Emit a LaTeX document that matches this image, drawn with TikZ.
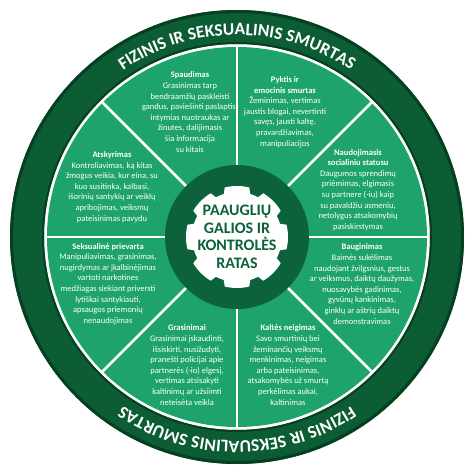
\documentclass[tikz,border=0pt]{standalone}
\usepackage{fontspec}
\setmainfont{Carlito}
\usetikzlibrary{decorations.text}
\definecolor{ringgreen}{RGB}{12,92,52}
\definecolor{ringdark}{RGB}{6,64,35}
\definecolor{seggreen}{RGB}{30,163,108}
\definecolor{hubgreen}{RGB}{12,98,58}
\begin{document}
\begin{tikzpicture}[x=1pt, y=1pt,
        segtext/.style = {align=center, text=white, inner sep=0pt, font=\fontsize{8.5}{10.6}\selectfont},
        hubtext/.style = {align=center, text=hubgreen, inner sep=0pt, font=\fontsize{16}{17.5}\selectfont\bfseries},
        spoke/.style = {white, line width=2.6pt},
        ringtext/.style = {decorate, decoration={text along path, text align=center,
            text={|\color{white}\fontsize{17.5}{18}\selectfont\bfseries|#1}}}
    ]
        \useasboundingbox (-237,-237) rectangle (237,237);
        \fill[ringgreen, even odd rule] (0,0) circle (227) (0,0) circle (193);
        \draw[ringdark, line width=3pt] (0,0) circle (225.5);
        \draw[ringdark, line width=2pt] (0,0) circle (194);
        \fill[seggreen] (0,0) circle (190);
        \foreach \a in {0,45,...,315}
            \draw[spoke] (\a:70) -- (\a:191);
        \fill[hubgreen] (0,0) circle (72);
        \fill[white] (-17:45) \foreach \a in {0,45,...,315} {
            -- (\a-14:51) arc[start angle=\a-14, end angle=\a+14, radius=51]
            -- (\a+17:45) arc[start angle=\a+17, end angle=\a+28, radius=45] } -- cycle;
        \path[ringtext=FIZINIS IR SEKSUALINIS SMURTAS] (140:202) arc[start angle=140, end angle=40, radius=202];
        \path[ringtext=FIZINIS IR SEKSUALINIS SMURTAS] (-40:204) arc[start angle=-40, end angle=-140, radius=204];
        \node[hubtext] (ratas) at (0,0) {PAAUGLIŲ\\GALIOS IR\\KONTROLĖS\\RATAS};
        \node[segtext] (spaudimas) at (-47,125) {\textbf{Spaudimas}\\Grasinimas tarp\\bendraamžių paskleisti\\gandus, paviešinti paslaptis,\\intymias nuotraukas ar\\žinutes, dalijimasis\\šia informacija\\su kitais};
        \node[segtext] (pyktis) at (48,125) {\textbf{Pyktis ir}\\\textbf{emocinis smurtas}\\Žeminimas, vertimas\\jaustis blogai, nevertinti\\savęs, jausti kaltę,\\pravardžiavimas,\\manipuliacijos};
        \node[segtext] (atskyrimas) at (-125,50) {\textbf{Atskyrimas}\\Kontroliavimas, ką kitas\\žmogus veikia, kur eina, su\\kuo susitinka, kalbasi,\\išorinių santykių ar veiklų\\apribojimas, veiksmų\\pateisinimas pavydu};
        \node[segtext] (statusas) at (121,47) {\textbf{Naudojimasis}\\\textbf{socialiniu statusu}\\Daugumos sprendimų\\priėmimas, elgimasis\\su partnere (-iu) kaip\\su pavaldžiu asmeniu,\\netolygus atsakomybių\\pasiskirstymas};
        \node[segtext] (prievarta) at (-129,-47) {\textbf{Seksualinė prievarta}\\Manipuliavimas, grasinimas,\\nugirdymas ar įkalbinėjimas\\vartoti narkotines\\medžiagas siekiant priversti\\lytiškai santykiauti,\\apsaugos priemonių\\nenaudojimas};
        \node[segtext] (bauginimas) at (125,-47) {\textbf{Bauginimas}\\Baimės sukėlimas\\naudojant žvilgsnius, gestus\\ar veiksmus, daiktų daužymas,\\nuosavybės gadinimas,\\gyvūnų kankinimas,\\ginklų ar aštrių daiktų\\demonstravimas};
        \node[segtext] (grasinimai) at (-50,-128) {\textbf{Grasinimai}\\Grasinimai įskaudinti,\\išsiskirti, nusižudyti,\\pranešti policijai apie\\partnerės (-io) elgesį,\\vertimas atsisakyti\\kaltinimų ar užsiimti\\neteisėta veikla};
        \node[segtext] (neigimas) at (51,-128) {\textbf{Kaltės neigimas}\\Savo smurtinių bei\\žeminančių veiksmų\\menkinimas, neigimas\\arba pateisinimas,\\atsakomybės už smurtą\\perkėlimas aukai,\\kaltinimas};
    \end{tikzpicture}
\end{document}
